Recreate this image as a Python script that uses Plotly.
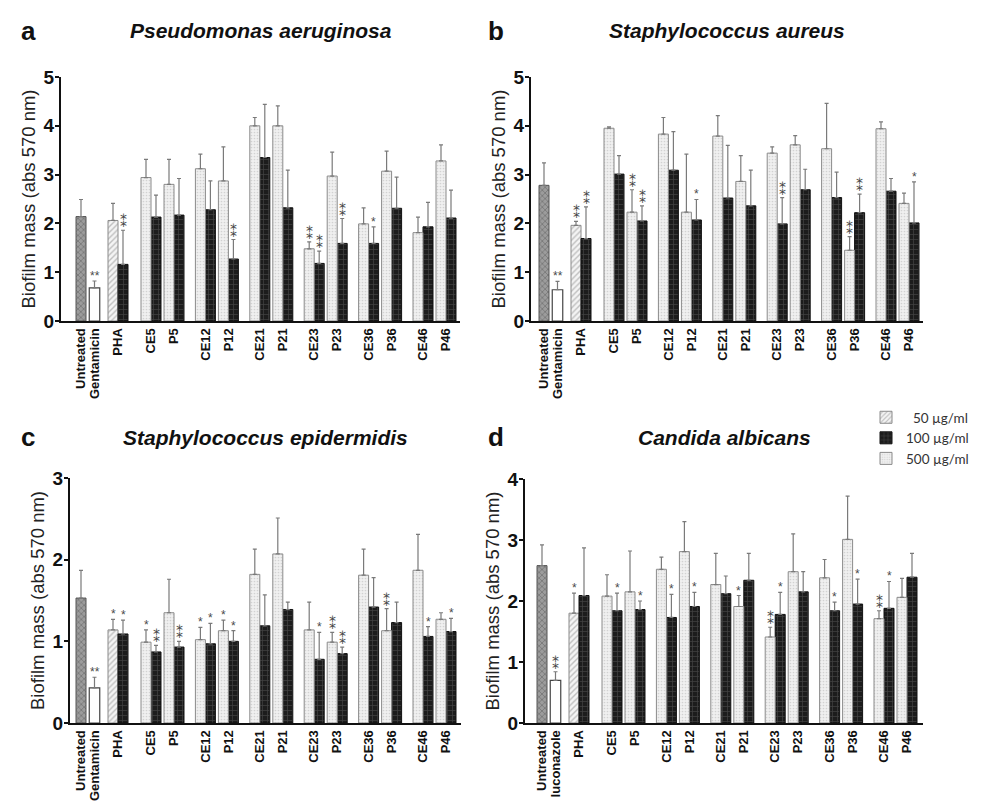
import plotly.graph_objects as go

# ---------------- data ----------------
pair_labels = ["CE5", "P5", "CE12", "P12", "CE21", "P21", "CE23", "P23", "CE36", "P36", "CE46", "P46"]

# panel a: Pseudomonas aeruginosa
a_untreated, a_untreated_err = 2.14, 0.35
a_ctrl, a_ctrl_err = 0.68, 0.14
a_pha50, a_pha50_err = 2.06, 0.35
a_pha100, a_pha100_err = 1.16, 0.70
a_m500 = [2.94, 2.80, 3.12, 2.87, 4.00, 4.00, 1.48, 2.97, 1.99, 3.07, 1.81, 3.28]
a_e500 = [0.37, 0.51, 0.30, 0.70, 0.17, 0.41, 0.14, 0.49, 0.33, 0.41, 0.32, 0.33]
a_m100 = [2.13, 2.17, 2.28, 1.27, 3.35, 2.32, 1.18, 1.59, 1.59, 2.31, 1.93, 2.11]
a_e100 = [0.45, 0.75, 0.59, 0.40, 1.09, 0.77, 0.25, 0.51, 0.34, 0.64, 0.50, 0.57]
a_sig_ctrl, a_sig_pha50, a_sig_pha100 = "**", "", "**"
a_sig500 = ["", "", "", "", "", "", "**", "", "", "", "", ""]
a_sig100 = ["", "", "", "**", "", "", "**", "**", "*", "", "", ""]

# panel b: Staphylococcus aureus
b_untreated, b_untreated_err = 2.78, 0.46
b_ctrl, b_ctrl_err = 0.64, 0.17
b_pha50, b_pha50_err = 1.96, 0.08
b_pha100, b_pha100_err = 1.69, 0.65
b_m500 = [3.95, 2.23, 3.83, 2.23, 3.79, 2.86, 3.44, 3.61, 3.53, 1.45, 3.94, 2.41]
b_e500 = [0.03, 0.46, 0.34, 1.19, 0.42, 0.53, 0.13, 0.19, 0.93, 0.28, 0.14, 0.21]
b_m100 = [3.01, 2.05, 3.09, 2.07, 2.52, 2.36, 1.99, 2.69, 2.53, 2.22, 2.66, 2.01]
b_e100 = [0.38, 0.31, 0.79, 0.42, 1.08, 0.73, 0.54, 0.42, 0.52, 0.38, 0.26, 0.84]
b_sig_ctrl, b_sig_pha50, b_sig_pha100 = "**", "**", "**"
b_sig500 = ["", "**", "", "", "", "", "", "", "", "**", "", ""]
b_sig100 = ["", "**", "", "*", "", "", "**", "", "", "**", "", "*"]

# panel c: Staphylococcus epidermidis
c_untreated, c_untreated_err = 1.53, 0.34
c_ctrl, c_ctrl_err = 0.43, 0.13
c_pha50, c_pha50_err = 1.14, 0.13
c_pha100, c_pha100_err = 1.09, 0.17
c_m500 = [0.99, 1.35, 1.02, 1.13, 1.82, 2.07, 1.14, 0.99, 1.81, 1.13, 1.87, 1.27]
c_e500 = [0.15, 0.41, 0.15, 0.13, 0.31, 0.44, 0.34, 0.12, 0.32, 0.27, 0.44, 0.08]
c_m100 = [0.87, 0.93, 0.97, 1.00, 1.19, 1.39, 0.78, 0.85, 1.42, 1.23, 1.06, 1.12]
c_e100 = [0.08, 0.07, 0.25, 0.13, 0.38, 0.09, 0.33, 0.08, 0.36, 0.25, 0.12, 0.16]
c_sig_ctrl, c_sig_pha50, c_sig_pha100 = "**", "*", "*"
c_sig500 = ["*", "", "*", "*", "", "", "", "**", "", "**", "", ""]
c_sig100 = ["**", "**", "*", "*", "", "", "*", "**", "", "", "*", "*"]

# panel d: Candida albicans
d_untreated, d_untreated_err = 2.58, 0.34
d_ctrl, d_ctrl_err = 0.70, 0.14
d_pha50, d_pha50_err = 1.80, 0.33
d_pha100, d_pha100_err = 2.09, 0.78
d_m500 = [2.08, 2.15, 2.52, 2.81, 2.27, 1.91, 1.41, 2.48, 2.38, 3.01, 1.71, 2.06]
d_e500 = [0.35, 0.67, 0.20, 0.49, 0.51, 0.18, 0.16, 0.62, 0.30, 0.71, 0.13, 0.31]
d_m100 = [1.84, 1.86, 1.73, 1.91, 2.12, 2.34, 1.78, 2.15, 1.84, 1.95, 1.88, 2.39]
d_e100 = [0.29, 0.14, 0.38, 0.23, 0.29, 0.44, 0.36, 0.33, 0.14, 0.41, 0.44, 0.39]
d_sig_ctrl, d_sig_pha50, d_sig_pha100 = "**", "*", ""
d_sig500 = ["", "", "", "", "", "*", "**", "", "", "", "**", ""]
d_sig100 = ["*", "*", "*", "*", "", "", "*", "", "*", "*", "*", ""]

panels = [
    dict(letter="a", title="Pseudomonas aeruginosa", ctrl="Gentamicin", ymax=5,
         unt=a_untreated, unt_e=a_untreated_err, ctl=a_ctrl, ctl_e=a_ctrl_err,
         p50=a_pha50, p50_e=a_pha50_err, p100=a_pha100, p100_e=a_pha100_err,
         m500=a_m500, e500=a_e500, m100=a_m100, e100=a_e100,
         s_ctl=a_sig_ctrl, s_p50=a_sig_pha50, s_p100=a_sig_pha100, s500=a_sig500, s100=a_sig100,
         dom_x=[53, 452], dom_y=[69, 313], xr0=0.0),
    dict(letter="b", title="Staphylococcus aureus", ctrl="Gentamicin", ymax=5,
         unt=b_untreated, unt_e=b_untreated_err, ctl=b_ctrl, ctl_e=b_ctrl_err,
         p50=b_pha50, p50_e=b_pha50_err, p100=b_pha100, p100_e=b_pha100_err,
         m500=b_m500, e500=b_e500, m100=b_m100, e100=b_e100,
         s_ctl=b_sig_ctrl, s_p50=b_sig_pha50, s_p100=b_sig_pha100, s500=b_sig500, s100=b_sig100,
         dom_x=[523, 915], dom_y=[69, 313], xr0=0.7),
    dict(letter="c", title="Staphylococcus epidermidis", ctrl="Gentamicin", ymax=3,
         unt=c_untreated, unt_e=c_untreated_err, ctl=c_ctrl, ctl_e=c_ctrl_err,
         p50=c_pha50, p50_e=c_pha50_err, p100=c_pha100, p100_e=c_pha100_err,
         m500=c_m500, e500=c_e500, m100=c_m100, e100=c_e100,
         s_ctl=c_sig_ctrl, s_p50=c_sig_pha50, s_p100=c_sig_pha100, s500=c_sig500, s100=c_sig100,
         dom_x=[62, 453], dom_y=[470, 715], xr0=0.9),
    dict(letter="d", title="Candida albicans", ctrl="luconazole", ymax=4,
         unt=d_untreated, unt_e=d_untreated_err, ctl=d_ctrl, ctl_e=d_ctrl_err,
         p50=d_pha50, p50_e=d_pha50_err, p100=d_pha100, p100_e=d_pha100_err,
         m500=d_m500, e500=d_e500, m100=d_m100, e100=d_e100,
         s_ctl=d_sig_ctrl, s_p50=d_sig_pha50, s_p100=d_sig_pha100, s500=d_sig500, s100=d_sig100,
         dom_x=[517, 915], dom_y=[471, 715], xr0=0.3),
]

# ---------------- layout of category positions (bar width = 1 unit) ----------------
W, H = 987, 801
ctrl_x = [2.0, 3.35]
pha_center = 5.7
first_group, group_pitch, pair_gap = 9.0, 5.44, 2.3
pair_centers = [first_group + group_pitch * (i // 2) + pair_gap * (i % 2) for i in range(len(pair_labels))]
x500 = [c - 0.5 for c in pair_centers]
x100 = [pha_center + 0.5] + [c + 0.5 for c in pair_centers]
x50 = [pha_center - 0.5]

FONT = "Liberation Sans, Arial, sans-serif"
ERR = dict(color="#7a7a7a", thickness=1.2, width=2)
STAR_FONT = dict(family=FONT, size=12, color="#4a4a4a")
VSTAR_FONT = dict(family="DejaVu Sans, sans-serif", size=14, color="#4a4a4a")

def err(vals):
    return dict(type="data", array=vals, arrayminus=[0] * len(vals), symmetric=False, **ERR)

style_unt = dict(color="#8c8c8c", line=dict(color="#555", width=1),
                 pattern=dict(shape="x", fgcolor="#4a4a4a", bgcolor="#9c9c9c", size=4, solidity=0.35))
style_ctl = dict(color="white", line=dict(color="#444", width=1.2))
style_50 = dict(color="#f4f4f4", line=dict(color="#8a8a8a", width=1),
                pattern=dict(shape="/", fgcolor="#8a8a8a", bgcolor="#f4f4f4", size=4, solidity=0.35))
style_100 = dict(color="#1c1c1c", line=dict(color="#111", width=1),
                 pattern=dict(shape="+", fgcolor="#6a6a6a", bgcolor="#1c1c1c", size=5, solidity=0.25))
style_500 = dict(color="#f0f0f0", line=dict(color="#8a8a8a", width=1),
                 pattern=dict(shape=".", fgcolor="#b4b4b4", bgcolor="#f0f0f0", size=3, solidity=0.25))

fig = go.Figure()
annotations = []

for i, p in enumerate(panels):
    ax = "" if i == 0 else str(i + 1)
    xa, ya = "x" + ax, "y" + ax
    first = i == 0
    fig.add_trace(go.Bar(x=[ctrl_x[0]], y=[p["unt"]], width=1, marker=style_unt,
                         error_y=err([p["unt_e"]]), xaxis=xa, yaxis=ya, showlegend=False))
    fig.add_trace(go.Bar(x=[ctrl_x[1]], y=[p["ctl"]], width=1.05, marker=style_ctl,
                         error_y=err([p["ctl_e"]]), xaxis=xa, yaxis=ya, showlegend=False))
    fig.add_trace(go.Bar(x=x50, y=[p["p50"]], width=1, marker=style_50, name="  50 µg/ml",
                         error_y=err([p["p50_e"]]), xaxis=xa, yaxis=ya, showlegend=first,
                         legendgroup="g50", legendrank=1))
    m100 = [p["p100"]] + p["m100"]
    e100 = [p["p100_e"]] + p["e100"]
    fig.add_trace(go.Bar(x=x100, y=m100, width=1, marker=style_100, name="100 µg/ml",
                         error_y=err(e100), xaxis=xa, yaxis=ya, showlegend=first,
                         legendgroup="g100", legendrank=2))
    fig.add_trace(go.Bar(x=x500, y=p["m500"], width=1, marker=style_500, name="500 µg/ml",
                         error_y=err(p["e500"]), xaxis=xa, yaxis=ya, showlegend=first,
                         legendgroup="g500", legendrank=3))

    # significance stars (double stars stacked vertically, except on the control bar in a-c)
    stars = [(ctrl_x[1], p["ctl"] + p["ctl_e"], p["s_ctl"], i == 3),
             (x50[0], p["p50"] + p["p50_e"], p["s_p50"], True)]
    stars += [(x, m + e, s, True) for x, m, e, s in zip(x100, m100, e100, [p["s_p100"]] + p["s100"])]
    stars += [(x, m + e, s, True) for x, m, e, s in zip(x500, p["m500"], p["e500"], p["s500"])]
    for x, top, s, vertical in stars:
        if not s:
            continue
        if vertical and len(s) == 2:
            annotations.append(dict(x=x, y=top, xref=xa, yref=ya, text="\u2051", showarrow=False,
                                    xanchor="center", yanchor="bottom", yshift=-2,
                                    font=VSTAR_FONT))
        else:
            annotations.append(dict(x=x, y=top, xref=xa, yref=ya, text=s, showarrow=False,
                                    xanchor="center", yanchor="bottom", yshift=-4,
                                    font=STAR_FONT))

    x0, x1 = p["dom_x"]
    y0, y1 = p["dom_y"]
    tickvals = ctrl_x + [pha_center] + pair_centers
    ticktext = ["Untreated", p["ctrl"], "PHA"] + pair_labels
    span = (x1 - x0) / 10.0
    fig.layout["xaxis" + ax] = dict(
        domain=[x0 / W, x1 / W], anchor=ya, range=[p["xr0"], p["xr0"] + span],
        showline=True, linewidth=2, linecolor="#111", showgrid=False, zeroline=False,
        tickvals=tickvals, ticktext=ticktext, tickangle=-90, ticks="",
        tickfont=dict(family=FONT, size=13, color="#111", weight="bold"))
    fig.layout["yaxis" + ax] = dict(
        domain=[1 - y1 / H, 1 - y0 / H], anchor=xa, range=[0, p["ymax"]], dtick=1,
        showline=True, linewidth=2, linecolor="#111", showgrid=False, zeroline=False,
        ticks="outside", ticklen=4, tickwidth=2, tickcolor="#111", ticklabelstandoff=-3,
        tickfont=dict(family=FONT, size=19, color="#111", weight="bold"),
        title=dict(text="Biofilm mass (abs 570 nm)", standoff=3,
                   font=dict(family=FONT, size=18.5, color="#222")))

    # panel letter and title
    cx = (x0 + x1) / 2.0
    ty = 23 if i < 2 else 429
    lx = 20 if i % 2 == 0 else 488
    annotations.append(dict(x=lx / W, y=1 - ty / H, xref="paper", yref="paper", text="<b>" + p["letter"] + "</b>",
                            showarrow=False, xanchor="center", yanchor="middle",
                            font=dict(family=FONT, size=26, color="#111")))
    annotations.append(dict(x=cx / W, y=1 - ty / H, xref="paper", yref="paper",
                            text="<b><i>" + p["title"] + "</i></b>",
                            showarrow=False, xanchor="center", yanchor="middle",
                            font=dict(family=FONT, size=21, color="#111")))

fig.update_layout(
    width=W, height=H, margin=dict(l=0, r=0, t=0, b=0, autoexpand=False),
    paper_bgcolor="white", plot_bgcolor="white", barmode="overlay",
    annotations=annotations,
    legend=dict(x=858 / W, y=1 - 394 / H, xanchor="left", yanchor="top",
                font=dict(family="Lato, Open Sans, sans-serif", size=13.5, color="#333"),
                bgcolor="rgba(0,0,0,0)", itemwidth=30, tracegroupgap=0, traceorder="normal"),
)

fig.write_html("out.html")
